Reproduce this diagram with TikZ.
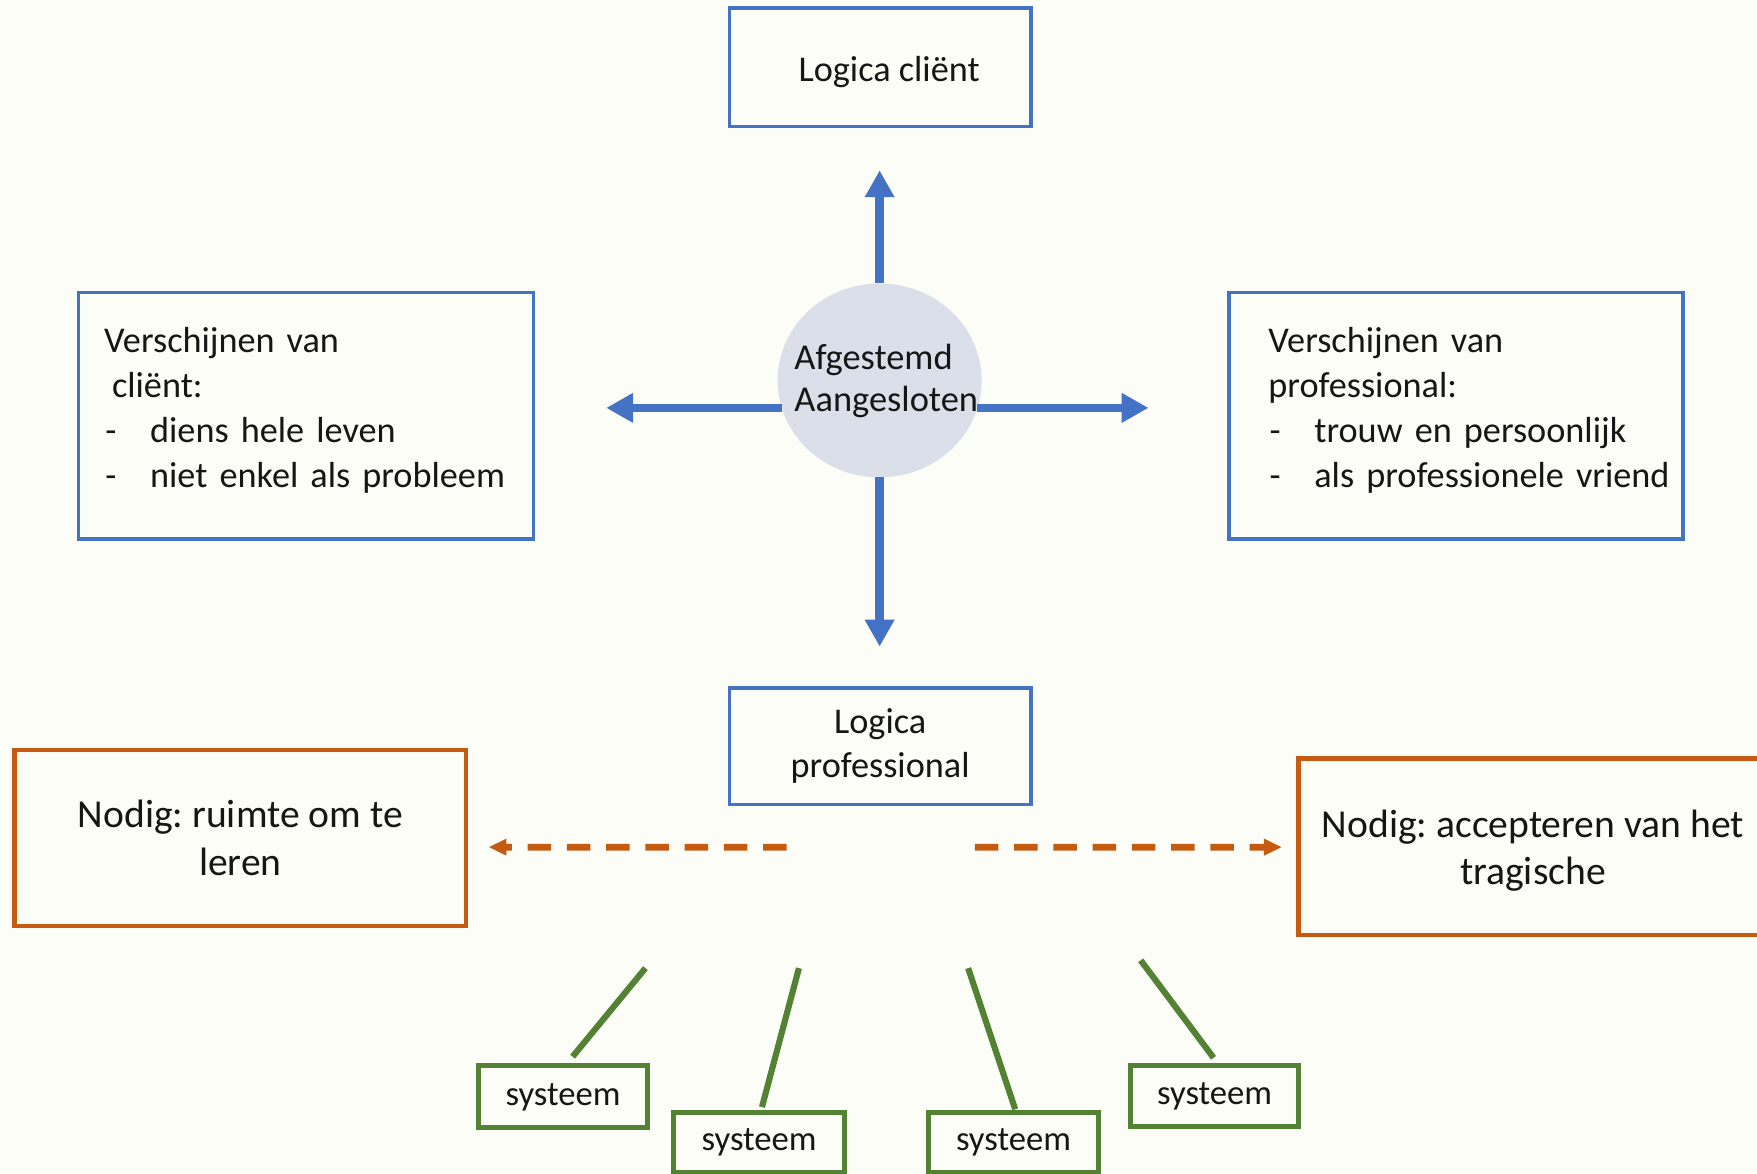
\documentclass[tikz,border=0pt]{standalone}
\usepackage{fontspec}
\setmainfont{Carlito}
\usetikzlibrary{arrows.meta,shapes.geometric}
\definecolor{bgc}{RGB}{253,253,247}
\definecolor{blu}{RGB}{68,114,196}
\definecolor{org}{RGB}{197,90,17}
\definecolor{grn}{RGB}{84,130,53}
\definecolor{circf}{RGB}{218,223,234}
\definecolor{txt}{RGB}{22,22,22}
\newcommand{\bulitem}{\makebox[0.41cm][l]{\hspace{0.01cm}-}}
\frenchspacing
\begin{document}
\frenchspacing
\begin{tikzpicture}[x=0.01cm,y=-0.01cm,
  bluebox/.style={draw=blu, line width=0.03cm, inner sep=0pt, outer sep=0pt, text=txt, align=center, font=\fontsize{9.2pt}{11.1pt}\selectfont},
  bluetext/.style={inner sep=0pt, outer sep=0pt, text=txt, align=left, text width=3.9cm, font=\fontsize{9.2pt}{11.38pt}\selectfont},
  circtext/.style={inner sep=0pt, outer sep=0pt, text=txt, align=left, text width=2cm, font=\fontsize{9.25pt}{10.53pt}\selectfont},
  orangebox/.style={draw=org, line width=0.037cm, inner sep=0pt, outer sep=0pt, text=txt, align=center, font=\fontsize{10.05pt}{12.23pt}\selectfont},
  greenbox/.style={draw=grn, line width=0.045cm, inner sep=0pt, outer sep=0pt, text=txt, minimum width=1.51cm, font=\fontsize{8.8pt}{10pt}\selectfont},
  barrow/.style={draw=blu, line width=0.075cm, -{Triangle[width=0.25cm,length=0.24cm]}},
  oarrow/.style={draw=org, line width=0.06cm, dash pattern=on 0.21cm off 0.14cm, -{Triangle[width=0.14cm,length=0.16cm]}},
  gline/.style={draw=grn, line width=0.055cm}
]
\fill[bgc] (0,0) rectangle (1568,1047);
\useasboundingbox (0,0) rectangle (1568,1047);

% top box
\node[bluebox, minimum width=2.69cm, minimum height=1.06cm] (lc) at (785.5,60) {\raisebox{-0.13cm}[0pt][0pt]{\hspace*{0.16cm}Logica cliënt}};

% centre ellipse
\node[ellipse, fill=circf, inner sep=0pt, outer sep=0pt, minimum width=1.82cm, minimum height=1.73cm] (circ) at (785,339.5) {};
\node[circtext, anchor=base west] (ctext) at (709,330) {Afgestemd\\Aangesloten};

% blue arrows
\coordinate (upTip) at (785,152);
\coordinate (dnTip) at (785,577);
\coordinate (lTip) at (541,364);
\coordinate (rTip) at (1025,364);
\draw[barrow] (circ.north) -- (upTip);
\draw[barrow] (circ.south) -- (dnTip);
\draw[barrow] (circ.196 |- lTip) -- (lTip);
\draw[barrow] (circ.344 |- rTip) -- (rTip);

% side boxes
\node[bluebox, minimum width=4.06cm, minimum height=2.20cm] (lbox) at (273,371) {};
\node[bluetext, anchor=base west] (ltext) at (93,315) {Verschijnen van\\\hspace*{0.07cm}cliënt:\\\bulitem diens hele leven\\\bulitem niet enkel als probleem};
\node[bluebox, minimum width=4.05cm, minimum height=2.20cm] (rbox) at (1299.5,371) {};
\node[bluetext, anchor=base west] (rtext) at (1132,315) {Verschijnen van\\professional:\\\bulitem trouw en persoonlijk\\\bulitem als professionele vriend};

% logica professional
\node[bluebox, minimum width=2.69cm, minimum height=1.04cm] (lp) at (785.5,666) {Logica\\professional};

% orange boxes
\node[orangebox, minimum width=4.03cm, minimum height=1.57cm] (ol) at (214.5,747.5) {Nodig: ruimte om te\\leren};
\node[orangebox, minimum width=4.18cm, minimum height=1.57cm] (or) at (1368,755.5) {\raisebox{-0.13cm}[0.4cm][0.4cm]{\begin{tabular}{@{}c@{}}Nodig: accepteren van het\\[-0.15pt]tragische\end{tabular}}};

% orange dashed arrows
\coordinate (oLtip) at (436,756);
\coordinate (oRtip) at (1144,756);
\draw[oarrow] ([xshift=-0.835cm,yshift=-0.38cm]lp.south) -- (oLtip);
\draw[oarrow] ([xshift=0.845cm,yshift=-0.38cm]lp.south) -- (oRtip);

% green boxes
\node[greenbox, minimum height=0.55cm] (s1) at (502.5,978.5) {\raisebox{-0.03cm}[0.2cm][0.1cm]{systeem}};
\node[greenbox, minimum width=1.53cm, minimum height=0.53cm] (s2) at (677.5,1019.5) {systeem};
\node[greenbox, minimum height=0.53cm] (s3) at (904.5,1019.5) {systeem};
\node[greenbox, minimum width=1.50cm, minimum height=0.54cm] (s4) at (1084,978) {\raisebox{0.03cm}{systeem}};

% green lines
\coordinate (g1) at (576,864);
\coordinate (g2) at (713,864);
\coordinate (g3) at (864,864);
\coordinate (g4) at (1018,857);
\draw[gline] ([xshift=0.085cm,yshift=0.08cm]s1.north) -- (g1);
\draw[gline] ([xshift=0.025cm,yshift=0.05cm]s2.north) -- (g2);
\draw[gline] ([xshift=0.015cm,yshift=0.03cm]s3.north) -- (g3);
\draw[gline] ([xshift=-0.01cm,yshift=0.07cm]s4.north) -- (g4);
\end{tikzpicture}
\end{document}
